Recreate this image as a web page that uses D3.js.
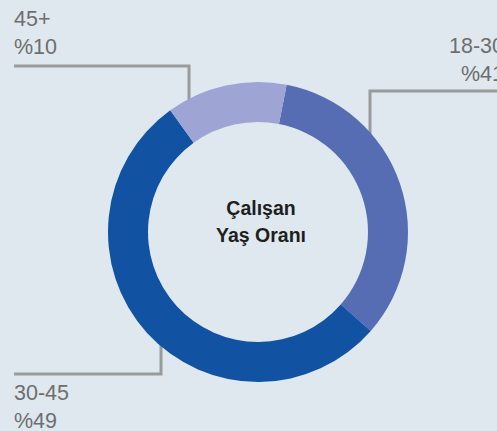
<!DOCTYPE html>
<html>
<head>
<meta charset="utf-8">
<script src="https://cdn.jsdelivr.net/npm/d3@7"></script>
<style>
  html, body { margin: 0; padding: 0; background: #dee8ee; overflow: hidden; }
  svg { display: block; }
</style>
</head>
<body>
<svg id="chart" width="497" height="431"></svg>
<script>
// age groups, drawn clockwise starting near the top
const categories = ["18-30", "30-45", "45+"];
// slice shares as they appear in the picture
const shares = [33.4, 53.6, 13.0];
// percent labels as printed
const percentLabels = ["%41", "%49", "%10"];
const colors = ["#566cb3", "#1152a3", "#9ea4d4"];
const titleLines = ["Çalışan", "Yaş Oranı"];

const W = 497, H = 431;
const cx = 258, cy = 232;
const outerR = 150, innerR = 110;

const svg = d3.select('#chart');

// leader lines (behind the ring)
const leaders = [
  { pts: [[14, 66], [189, 66], [189, 110]] },      // 45+
  { pts: [[500, 91], [370, 91], [370, 135]] },     // 18-30
  { pts: [[14, 374], [161, 374], [161, 335]] }     // 30-45
];
const line = d3.line();
svg.append('g')
  .selectAll('path')
  .data(leaders)
  .enter()
  .append('path')
  .attr('d', d => line(d.pts))
  .attr('fill', 'none')
  .attr('stroke', '#999a9b')
  .attr('stroke-width', 3);

// donut
const pie = d3.pie()
  .sort(null)
  .value(d => d)
  .startAngle(11 * Math.PI / 180)
  .endAngle(371 * Math.PI / 180);

const arc = d3.arc().innerRadius(innerR).outerRadius(outerR);

svg.append('g')
  .attr('transform', `translate(${cx},${cy})`)
  .selectAll('path')
  .data(pie(shares))
  .enter()
  .append('path')
  .attr('d', arc)
  .attr('fill', (d, i) => colors[i]);

// center title
svg.append('g')
  .selectAll('text')
  .data(titleLines)
  .enter()
  .append('text')
  .attr('x', 261)
  .attr('y', (d, i) => 215 + i * 27)
  .attr('text-anchor', 'middle')
  .attr('font-family', 'Liberation Sans, Arial, sans-serif')
  .attr('font-weight', 'bold')
  .attr('font-size', '19.5px')
  .attr('fill', '#1e1e1e')
  .text(d => d);

// outside labels
const labelPos = [
  { x: 504, y: 53, anchor: 'end' },   // 18-30
  { x: 14, y: 400, anchor: 'start' }, // 30-45
  { x: 14, y: 26, anchor: 'start' }   // 45+
];
const labels = svg.append('g')
  .attr('font-family', 'Liberation Sans, Arial, sans-serif')
  .attr('font-size', '21.5px')
  .attr('fill', '#6e6e6e');

categories.forEach((c, i) => {
  const p = labelPos[i];
  const t = labels.append('text')
    .attr('x', p.x)
    .attr('y', p.y)
    .attr('text-anchor', p.anchor);
  t.append('tspan').attr('x', p.x).text(c);
  t.append('tspan').attr('x', p.x).attr('dy', 27.5).text(percentLabels[i]);
});
</script>
</body>
</html>
